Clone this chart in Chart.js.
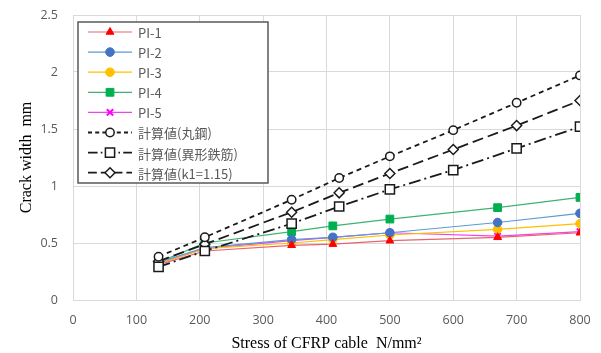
<!DOCTYPE html>
<html>
<head>
<meta charset="utf-8">
<script src="https://cdn.jsdelivr.net/npm/chart.js@4/dist/chart.umd.min.js"></script>
<style>
html,body{margin:0;padding:0;background:#fff;}
#wrap{width:601px;height:353px;position:relative;}
</style>
</head>
<body>
<div id="wrap"><canvas id="c" width="601" height="353"></canvas></div>
<script>
// ---- data ----
const expStress = [135, 208, 345, 410, 500, 670, 800];
const pi1 = [0.31, 0.43, 0.48, 0.49, 0.52, 0.55, 0.59];
const pi2 = [0.33, 0.46, 0.53, 0.55, 0.59, 0.68, 0.76];
const pi3 = [0.32, 0.45, 0.50, 0.53, 0.57, 0.62, 0.67];
const pi4 = [0.33, 0.50, 0.60, 0.65, 0.71, 0.81, 0.90];
const pi5 = [0.32, 0.45, 0.52, 0.55, 0.59, 0.56, 0.60];

const calcStress = [135, 208, 345, 420, 500, 600, 700, 800];
const calcRound = [0.38, 0.55, 0.88, 1.07, 1.26, 1.49, 1.73, 1.97];
const calcDeformed = [0.29, 0.43, 0.67, 0.82, 0.97, 1.14, 1.33, 1.52];
const calcK1 = [0.34, 0.49, 0.77, 0.94, 1.11, 1.32, 1.53, 1.75];

const xTicks = [0, 100, 200, 300, 400, 500, 600, 700, 800];
const yTicks = [0, 0.5, 1, 1.5, 2, 2.5];

const labels = ['PI-1', 'PI-2', 'PI-3', 'PI-4', 'PI-5', '計算値(丸鋼)', '計算値(異形鉄筋)', '計算値(k1=1.15)'];

function pts(xs, ys) { return xs.map((x, i) => ({x: x, y: ys[i]})); }

function expSet(label, xs, ys, line, marker, style, r) {
  return {label, data: pts(xs, ys), showLine: true, borderColor: line, borderWidth: 1.2,
    pointStyle: style, pointRadius: r, pointBackgroundColor: marker, pointBorderColor: marker,
    pointBorderWidth: style === 'crossRot' ? 2 : 1, order: 2};
}
function calcSet(label, xs, ys, dash, style, r) {
  return {label, data: pts(xs, ys), showLine: true, borderColor: '#1a1a1a', borderWidth: 1.8,
    borderDash: dash, pointStyle: style, pointRadius: r, pointBackgroundColor: '#ffffff',
    pointBorderColor: '#1a1a1a', pointBorderWidth: 1.5, order: 1};
}

const datasets = [
  expSet(labels[0], expStress, pi1, '#e8646a', '#ff0000', 'triangle', 4.5),
  expSet(labels[1], expStress, pi2, '#5b9bd5', '#4472c4', 'circle', 4.3),
  expSet(labels[2], expStress, pi3, '#ffc000', '#ffc000', 'circle', 4.3),
  expSet(labels[3], expStress, pi4, '#3cb371', '#00b050', 'rect', 5.5),
  expSet(labels[4], expStress, pi5, '#ee44ee', '#ff00ff', 'crossRot', 4.5),
  calcSet(labels[5], calcStress, calcRound, [5, 4], 'circle', 4.2),
  calcSet(labels[6], calcStress, calcDeformed, [12, 4, 2, 4], 'rect', 6.5),
  calcSet(labels[7], calcStress, calcK1, [11, 5], 'rectRot', 5)
];

const legendBox = {
  id: 'legendBox',
  afterDatasetsDraw(chart) {
    const ctx = chart.ctx, ca = chart.chartArea;
    const x0 = ca.left + 5, y0 = ca.top + 7, w = 190, h = 161;
    ctx.save();
    ctx.fillStyle = '#ffffff';
    ctx.fillRect(x0, y0, w, h);
    ctx.strokeStyle = '#595959';
    ctx.lineWidth = 1.5;
    ctx.strokeRect(x0, y0, w, h);
    ctx.font = '13px "Noto Sans CJK JP", "Noto Sans", sans-serif';
    ctx.textBaseline = 'middle';
    chart.data.datasets.forEach((ds, i) => {
      const cy = y0 + 10 + i * 20.1;
      ctx.save();
      ctx.strokeStyle = ds.borderColor;
      ctx.lineWidth = ds.borderWidth;
      ctx.setLineDash(ds.borderDash ? ds.borderDash.map(v => v * 0.8) : []);
      ctx.beginPath();
      ctx.moveTo(x0 + 10, cy);
      ctx.lineTo(x0 + 54, cy);
      ctx.stroke();
      ctx.setLineDash([]);
      ctx.fillStyle = ds.pointBackgroundColor;
      ctx.strokeStyle = ds.pointBorderColor;
      ctx.lineWidth = ds.pointBorderWidth;
      Chart.helpers.drawPoint(ctx, {pointStyle: ds.pointStyle, radius: ds.pointRadius, rotation: 0, borderWidth: ds.pointBorderWidth}, x0 + 32, cy);
      ctx.restore();
      ctx.fillStyle = '#595959';
      ctx.fillText(ds.label, x0 + 60, cy + 1);
    });
    ctx.restore();
  }
};

new Chart(document.getElementById('c'), {
  type: 'scatter',
  data: {datasets},
  options: {
    responsive: false,
    animation: false,
    layout: {padding: {left: 17, right: 21, top: 15, bottom: 0}},
    plugins: {legend: {display: false}, tooltip: {enabled: false}},
    scales: {
      x: {
        type: 'linear', min: 0, max: 800,
        afterBuildTicks: (s) => { s.ticks = xTicks.map(v => ({value: v})); },
        afterFit: (s) => { s.height = 53; s.paddingLeft = 0; s.paddingRight = 0; },
        grid: {color: '#d9d9d9', lineWidth: 1, drawTicks: false},
        border: {color: '#d9d9d9'},
        ticks: {color: '#595959', font: {family: '"Open Sans", "Liberation Sans", sans-serif', size: 12.5}, padding: 13},
        title: {display: true, text: 'Stress of CFRP cable  N/mm²', color: '#000', font: {family: '"Liberation Serif", serif', size: 16}, padding: {top: 0, bottom: 0}}
      },
      y: {
        min: 0, max: 2.5,
        afterBuildTicks: (s) => { s.ticks = yTicks.map(v => ({value: v})); },
        afterFit: (s) => { s.width = 56; s.paddingTop = 0; s.paddingBottom = 0; },
        grid: {color: '#d9d9d9', lineWidth: 1, drawTicks: false},
        border: {color: '#d9d9d9'},
        ticks: {color: '#595959', font: {family: '"Open Sans", "Liberation Sans", sans-serif', size: 12.5}, padding: 15,
          callback: (v) => String(v)},
        title: {display: true, text: 'Crack width  mm', color: '#000', font: {family: '"Liberation Serif", serif', size: 16}, padding: {top: 0, bottom: 0}}
      }
    }
  },
  plugins: [legendBox]
});
</script>
</body>
</html>
